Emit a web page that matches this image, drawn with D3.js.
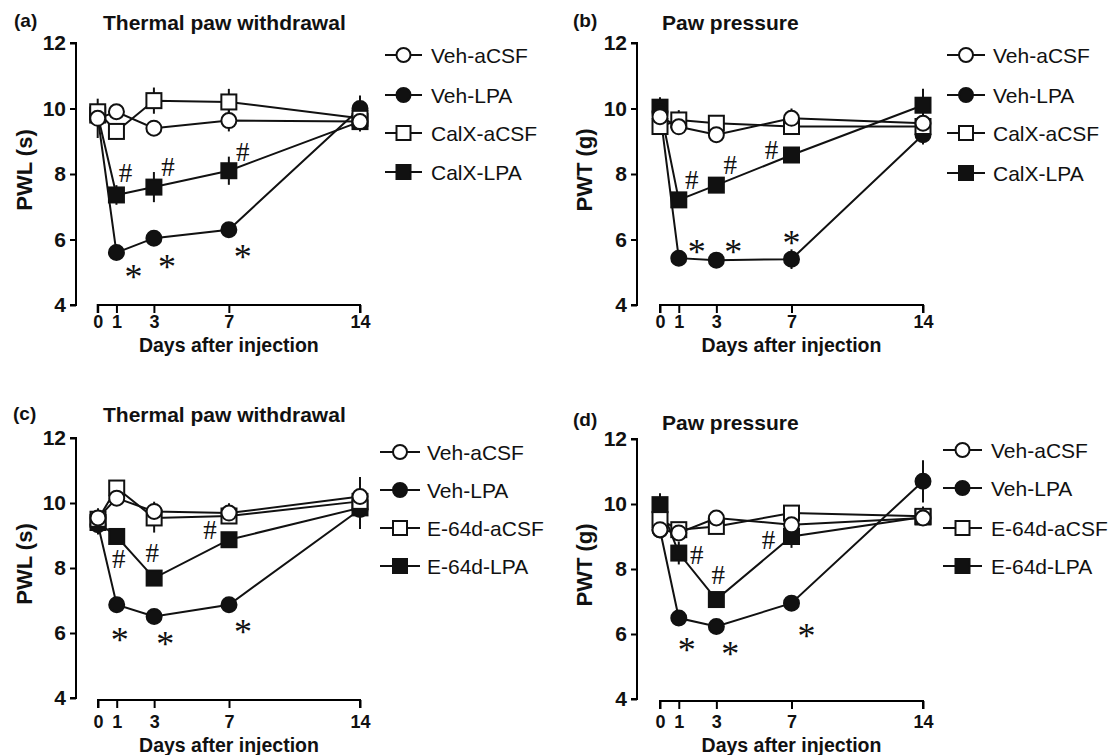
<!DOCTYPE html>
<html>
<head>
<meta charset="utf-8">
<script src="https://cdn.jsdelivr.net/npm/d3@7"></script>
<style>
  body { margin: 0; background: #fff; }
  text { font-family: "Liberation Sans", Arial, Helvetica, sans-serif; fill: #111; }
</style>
</head>
<body>
<script>
const days = [0, 1, 3, 7, 14]
const dayLabels = ['0', '1', '3', '7', '14']
const yTicks = [4, 6, 8, 10, 12]

const namesCalX = ['Veh-aCSF', 'Veh-LPA', 'CalX-aCSF', 'CalX-LPA']
const namesE64 = ['Veh-aCSF', 'Veh-LPA', 'E-64d-aCSF', 'E-64d-LPA']

// (a) thermal, calpain inhibitor X
const aVehCSF = [9.7, 9.9, 9.4, 9.63, 9.6]
const aVehLPA = [9.75, 5.6, 6.04, 6.3, 10.0]
const aCalCSF = [9.9, 9.3, 10.24, 10.2, 9.7]
const aCalLPA = [9.8, 7.36, 7.6, 8.1, 9.6]
const aErr = [
  [0.6, 0.2, 0.15, 0.33, 0.2],
  [0.2, 0.2, 0.2, 0.2, 0.4],
  [0.2, 0.25, 0.4, 0.4, 0.2],
  [0.2, 0.3, 0.46, 0.43, 0.3]
]

// (b) paw pressure, calpain inhibitor X
const bVehCSF = [9.75, 9.44, 9.2, 9.7, 9.55]
const bVehLPA = [9.9, 5.43, 5.37, 5.4, 9.2]
const bCalCSF = [9.45, 9.65, 9.55, 9.45, 9.45]
const bCalLPA = [10.04, 7.21, 7.66, 8.58, 10.1]
const bErr = [
  [0.2, 0.25, 0.15, 0.3, 0.2],
  [0.2, 0.15, 0.1, 0.3, 0.3],
  [0.2, 0.3, 0.2, 0.2, 0.2],
  [0.3, 0.2, 0.2, 0.2, 0.5]
]

// (c) thermal, E-64d
const cVehCSF = [9.54, 10.15, 9.74, 9.69, 10.2]
const cVehLPA = [9.33, 6.87, 6.51, 6.87, 9.8]
const cE64CSF = [9.5, 10.46, 9.54, 9.6, 10.05]
const cE64LPA = [9.4, 8.97, 7.69, 8.87, 9.85]
const cErr = [
  [0.3, 0.2, 0.3, 0.3, 0.6],
  [0.3, 0.15, 0.15, 0.15, 0.3],
  [0.2, 0.2, 0.45, 0.2, 0.3],
  [0.2, 0.2, 0.2, 0.2, 0.65]
]

// (d) paw pressure, E-64d
const dVehCSF = [9.21, 9.11, 9.57, 9.36, 9.57]
const dVehLPA = [9.2, 6.49, 6.23, 6.95, 10.7]
const dE64CSF = [9.52, 9.21, 9.31, 9.72, 9.62]
const dE64LPA = [9.98, 8.49, 7.06, 9.0, 9.6]
const dErr = [
  [0.2, 0.2, 0.2, 0.2, 0.2],
  [0.2, 0.15, 0.15, 0.15, 0.65],
  [0.2, 0.2, 0.2, 0.2, 0.3],
  [0.35, 0.35, 0.2, 0.35, 0.2]
]

// significance marks: [series index, day index, symbol]
const aMarks = [[3, 1, '#'], [3, 2, '#'], [3, 3, '#'], [1, 1, '*'], [1, 2, '*'], [1, 3, '*']]
const bMarks = aMarks
const cMarks = aMarks
const dMarks = aMarks

// pixel offsets of the marks from their point (same order as the marks)
const aMarkOff = [[9, -22], [14, -20], [14, -19], [17, 15], [13, 20], [14, 18]]
const bMarkOff = [[13, -20], [14, -20], [-20, -5], [18, -15], [17, -17], [0, -25]]
const cMarkOff = [[2, 23], [-2, -25], [-19, -10], [3, 26], [11, 19], [14, 18]]
const dMarkOff = [[18, 2], [2, -25], [-23, 3], [8, 23], [14, 18], [15, 24]]

const panels = [
  { tag: '(a)', title: 'Thermal paw withdrawal', ylab: 'PWL (s)', names: namesCalX,
    series: [aVehCSF, aVehLPA, aCalCSF, aCalLPA], err: aErr, marks: aMarks, off: aMarkOff,
    axX: 76, yTop: 43, yBot: 305, x0: 97.7, x14: 360, xAxY: 305, tickLabDy: 17, xTitleDy: 40,
    tagX: 14, tagY: 27, titleX: 103, titleY: 30, ylabX: 24,
    legLine: [385, 422], legText: 431, legRows: [55, 95, 133, 172] },
  { tag: '(b)', title: 'Paw pressure', ylab: 'PWT (g)', names: namesCalX,
    series: [bVehCSF, bVehLPA, bCalCSF, bCalLPA], err: bErr, marks: bMarks, off: bMarkOff,
    axX: 637, yTop: 43, yBot: 305, x0: 660, x14: 923, xAxY: 305, tickLabDy: 17, xTitleDy: 40,
    tagX: 573, tagY: 27, titleX: 662, titleY: 30, ylabX: 584,
    legLine: [947, 985], legText: 993, legRows: [55, 95, 133, 173] },
  { tag: '(c)', title: 'Thermal paw withdrawal', ylab: 'PWL (s)', names: namesE64,
    series: [cVehCSF, cVehLPA, cE64CSF, cE64LPA], err: cErr, marks: cMarks, off: cMarkOff,
    axX: 76, yTop: 438, yBot: 698, x0: 98, x14: 360, xAxY: 700, tickLabDy: 22, xTitleDy: 45,
    tagX: 13, tagY: 420, titleX: 103, titleY: 422, ylabX: 24,
    legLine: [380, 420], legText: 427, legRows: [452, 490, 528, 566] },
  { tag: '(d)', title: 'Paw pressure', ylab: 'PWT (g)', names: namesE64,
    series: [dVehCSF, dVehLPA, dE64CSF, dE64LPA], err: dErr, marks: dMarks, off: dMarkOff,
    axX: 637, yTop: 439, yBot: 699, x0: 660, x14: 923, xAxY: 701, tickLabDy: 21, xTitleDy: 44,
    tagX: 573, tagY: 426, titleX: 662, titleY: 430, ylabX: 584,
    legLine: [943, 982], legText: 991, legRows: [450, 488, 528, 566] }
]

// marker style per series: open circle, filled circle, open square, filled square
const styles = [
  { shape: 'circle', fill: '#fff' },
  { shape: 'circle', fill: '#111' },
  { shape: 'square', fill: '#fff' },
  { shape: 'square', fill: '#111' }
]
const drawOrder = [3, 1, 2, 0]
const R = 7.5

const svg = d3.select('body')
  .append('svg')
  .attr('width', 1112)
  .attr('height', 755)

const drawMarker = (g, style, cx, cy, r) => {
  if (style.shape === 'circle') {
    g.append('circle')
      .attr('cx', cx).attr('cy', cy).attr('r', r)
      .attr('fill', style.fill).attr('stroke', '#111').attr('stroke-width', 2)
  } else {
    g.append('rect')
      .attr('x', cx - r).attr('y', cy - r)
      .attr('width', 2 * r).attr('height', 2 * r)
      .attr('fill', style.fill).attr('stroke', '#111').attr('stroke-width', 2)
  }
}

panels.forEach(p => {
  const g = svg.append('g')
  const x = d3.scaleLinear().domain([0, 14]).range([p.x0, p.x14])
  const y = d3.scaleLinear().domain([4, 12]).range([p.yBot, p.yTop])

  // y axis
  const yAxis = g.append('g')
    .attr('transform', `translate(${p.axX},0)`)
    .call(d3.axisLeft(y).tickValues(yTicks).tickSize(6).tickPadding(4).tickFormat(d3.format('d')))
  yAxis.select('.domain').attr('d', `M-6,${p.yTop}H0V${p.yBot}H-6`).attr('stroke-width', 2)
  yAxis.selectAll('.tick line').attr('stroke-width', 2)
  yAxis.selectAll('.tick text')
    .attr('font-size', 21).attr('font-weight', 'bold')
    .style('font-family', '"Liberation Sans", Arial, sans-serif')

  // x axis, detached from the y axis
  const xAxis = g.append('g')
    .attr('transform', `translate(0,${p.xAxY})`)
    .call(d3.axisBottom(x).tickValues(days).tickSize(8).tickPadding(0)
      .tickFormat((d, i) => dayLabels[i]))
  xAxis.select('.domain').attr('d', `M${p.x0},8V0H${p.x14}V8`).attr('stroke-width', 2)
  xAxis.selectAll('.tick line').attr('stroke-width', 2)
  xAxis.selectAll('.tick text')
    .attr('y', p.tickLabDy).attr('dy', null)
    .attr('dominant-baseline', 'central')
    .attr('font-size', 18).attr('font-weight', 'bold')
    .style('font-family', '"Liberation Sans", Arial, sans-serif')

  g.append('text')
    .attr('x', (p.x0 + p.x14) / 2)
    .attr('y', p.xAxY + p.xTitleDy)
    .attr('text-anchor', 'middle')
    .attr('dominant-baseline', 'central')
    .attr('font-size', 19.5).attr('font-weight', 'bold')
    .text('Days after injection')

  g.append('text')
    .attr('transform', `translate(${p.ylabX},${(p.yTop + p.yBot) / 2 - 4}) rotate(-90)`)
    .attr('text-anchor', 'middle')
    .attr('dominant-baseline', 'central')
    .attr('font-size', 22).attr('font-weight', 'bold')
    .text(p.ylab)

  g.append('text')
    .attr('x', p.tagX).attr('y', p.tagY)
    .attr('font-size', 19).attr('font-weight', 'bold')
    .text(p.tag)

  g.append('text')
    .attr('x', p.titleX).attr('y', p.titleY)
    .attr('font-size', 21).attr('font-weight', 'bold')
    .text(p.title)

  const line = d3.line().x((d, i) => x(days[i])).y(d => y(d))

  // connecting lines
  drawOrder.forEach(s => {
    g.append('path')
      .attr('d', line(p.series[s]))
      .attr('fill', 'none')
      .attr('stroke', '#111')
      .attr('stroke-width', 2)
  })

  // error bars
  drawOrder.forEach(s => {
    p.series[s].forEach((v, i) => {
      const e = p.err[s][i]
      g.append('line')
        .attr('x1', x(days[i])).attr('x2', x(days[i]))
        .attr('y1', y(v - e)).attr('y2', y(v + e))
        .attr('stroke', '#111').attr('stroke-width', 2)
    })
  })

  // markers
  drawOrder.forEach(s => {
    p.series[s].forEach((v, i) => drawMarker(g, styles[s], x(days[i]), y(v), R))
  })

  // significance marks
  p.marks.forEach(([s, i, sym], k) => {
    const [dx, dy] = p.off[k]
    g.append('text')
      .attr('x', x(days[i]) + dx)
      .attr('y', y(p.series[s][i]) + dy + (sym === '*' ? 9 : 0))
      .attr('text-anchor', 'middle')
      .attr('dominant-baseline', 'central')
      .attr('font-size', sym === '*' ? 36 : 27)
      .style('font-family', '"Liberation Serif", "Times New Roman", serif')
      .text(sym)
  })

  // legend
  p.names.forEach((name, s) => {
    const ry = p.legRows[s]
    g.append('line')
      .attr('x1', p.legLine[0]).attr('x2', p.legLine[1])
      .attr('y1', ry).attr('y2', ry)
      .attr('stroke', '#111').attr('stroke-width', 2)
    drawMarker(g, styles[s], (p.legLine[0] + p.legLine[1]) / 2, ry, 7)
    g.append('text')
      .attr('x', p.legText).attr('y', ry)
      .attr('dominant-baseline', 'central')
      .attr('font-size', 21)
      .text(name)
  })
})
</script>
</body>
</html>
